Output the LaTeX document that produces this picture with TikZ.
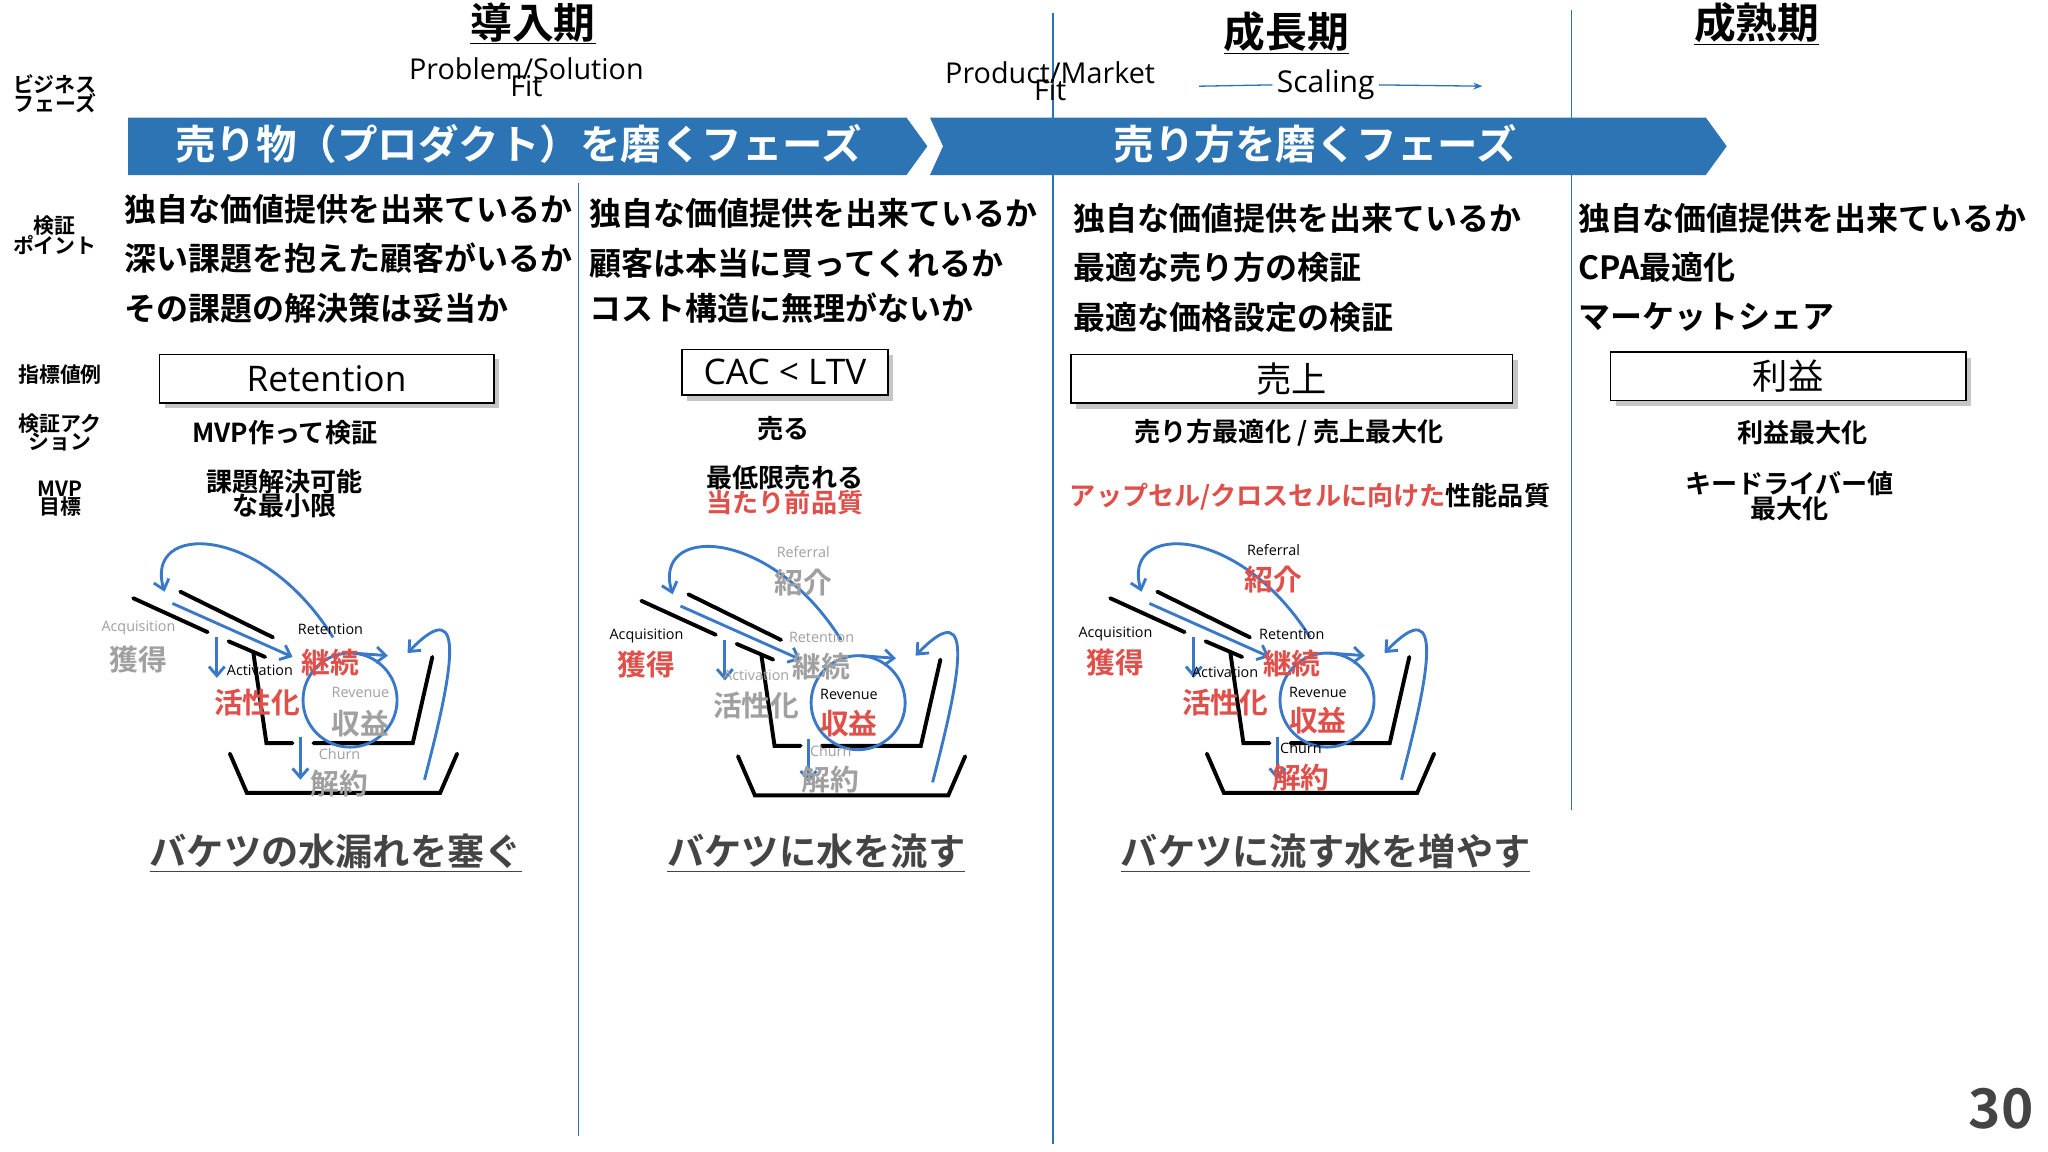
\documentclass[tikz,border=0pt]{standalone}
\usepackage{fontspec}
\setmainfont{Noto Sans CJK JP}[BoldFont={* Bold}]
\newfontfamily\lat{Open Sans}
\usetikzlibrary{arrows.meta,shapes.arrows}
\definecolor{bann}{HTML}{2C74B3}
\definecolor{lb}{HTML}{3A78C8}
\definecolor{rd}{HTML}{E0504A}
\definecolor{gr}{HTML}{A0A0A0}
\definecolor{dk}{HTML}{444444}
\tikzset{
 hd/.style={font=\bfseries\fontsize{32}{34}\selectfont},
 sm/.style={font=\bfseries\fontsize{16}{12}\selectfont,align=center},
 li/.style={anchor=west,font=\bfseries\fontsize{24.5}{26}\selectfont},
 act/.style={font=\bfseries\fontsize{20}{17}\selectfont,align=center},
 bx/.style={draw,line width=1.2pt,fill=white,inner sep=0pt,font=\lat\fontsize{27}{28}\selectfont},
 shd/.style={fill=gray!45},
 vl/.style={line width=1.2pt,bann},
 bl/.style={line width=3pt,line cap=round},
 blu/.style={lb,line width=2.2pt,-{Straight Barb[length=7pt,width=12pt]}},
 en/.style={font=\lat\fontsize{11}{12}\selectfont},
 jp/.style={font=\bfseries\fontsize{22}{24}\selectfont},
 captext/.style={font=\bfseries\fontsize{28.5}{30}\selectfont,dk},
}
\newcommand\mybucket[3]{%
\begin{scope}[shift={(#1,#2)}]
 \draw[bl] (102,458)--(159,484);
 \draw[bl] (138,453)--(209,488);
 \draw[bl] (175,491)--(203,503);
 \draw[bl] (194,500)--(204,569)--(224,569);
 \draw[bl] (240,569)--(316,569)--(331,503);
 \draw[bl] (176,577)--(189,607)--(337,607)--(350,577);
 \draw[lb,line width=2.2pt] (268,536) circle (36);
 \draw[blu] (255,488) .. controls (200,400) and (110,400) .. (126,453);
 \draw[blu] (132,462)--(224,503);
 \draw[blu] (166,488)--(166,519);
 \draw[blu] (230,564)--(230,597);
 \draw[blu] (270,500) -- (297,502);
 \draw[blu] (325,597) .. controls (345,520) and (360,450) .. (312,500);
 #3
\end{scope}}
\begin{document}
\begin{tikzpicture}[x=1pt,y=-1pt]
\useasboundingbox (0,0) rectangle (1568,882);
\fill[white] (0,0) rectangle (1568,882);
% vertical lines
\draw[vl] (443,140)--(443,870);
\draw[vl] (806,10)--(806,876);
\draw[vl] (1203,8)--(1203,620);
% headers
\node[hd] (h1) at (408,18) {\underline{導入期}};
\node[hd] (h2) at (985,25) {\underline{成長期}};
\node[hd] (h3) at (1345,18) {\underline{成熟期}};
\node[font=\lat\fontsize{22}{14}\selectfont,align=center] (ps) at (403,59) {Problem/Solution\\[-4pt]Fit};
\node[font=\lat\fontsize{22}{14}\selectfont,align=center] (pm) at (804,62) {Product/Market\\[-4pt]Fit};
\node[font=\lat\fontsize{23}{24}\selectfont] (sc) at (1015,65) {Scaling};
\coordinate (s1) at (918,66); \coordinate (s2) at (1135,66);
\draw[line width=1pt,bann] (s1)--(sc.west);
\draw[line width=1pt,bann,-{Stealth[length=7pt]}] (sc.east)--(s2);
% banners
\fill[bann] (98,90)--(694,90)--(710,112)--(694,134)--(98,134)--cycle;
\fill[bann] (712,90)--(1306,90)--(1322,112)--(1306,134)--(712,134)--(722,112)--cycle;
\node[white,font=\bfseries\fontsize{31}{32}\selectfont] (b1) at (397,110) {売り物（プロダクト）を磨くフェーズ};
\node[white,font=\bfseries\fontsize{31}{32}\selectfont] (b2) at (1007,110) {売り方を磨くフェーズ};
% left labels
\node[sm] (l1) at (42,72) {ビジネス\\[-1pt]フェーズ};
\node[sm] (l2) at (42,180) {検証\\[-1pt]ポイント};
\node[sm] (l3) at (46,287) {指標値例};
\node[sm] (l4) at (46,331) {検証アク\\[-1pt]ション};
\node[sm] (l5) at (46,382) {MVP\\[-1pt]目標};
% lists
\node[li] (a1) at (92,160) {独自な価値提供を出来ているか};
\node[li] (a2) at (92,198) {深い課題を抱えた顧客がいるか};
\node[li] (a3) at (92,236) {その課題の解決策は妥当か};
\node[li] (c1) at (448,163) {独自な価値提供を出来ているか};
\node[li] (c2) at (448,202) {顧客は本当に買ってくれるか};
\node[li] (c3) at (448,236) {コスト構造に無理がないか};
\node[li] (d1) at (818,167) {独自な価値提供を出来ているか};
\node[li] (d2) at (818,205) {最適な売り方の検証};
\node[li] (d3) at (818,243) {最適な価格設定の検証};
\node[li] (e1) at (1205,167) {独自な価値提供を出来ているか};
\node[li] (e2) at (1205,205) {CPA最適化};
\node[li] (e3) at (1205,243) {マーケットシェア};
% boxes
\fill[shd] (126,275) rectangle (382,312);
\node[bx,minimum width=256pt,minimum height=37pt] (r1) at (250,290) {Retention};
\fill[shd] (526,272) rectangle (684,307);
\node[bx,minimum width=158pt,minimum height=35pt] (r2) at (601,285) {CAC < LTV};
\fill[shd] (824,276) rectangle (1162,313);
\node[bx,minimum width=338pt,minimum height=37pt,font=\fontsize{27}{28}\selectfont] (r3) at (989,290) {売上};
\fill[shd] (1237,274) rectangle (1509,311);
\node[bx,minimum width=272pt,minimum height=37pt,font=\fontsize{27}{28}\selectfont] (r4) at (1369,288) {利益};
% actions
\node[act] (m1) at (218,331) {MVP作って検証};
\node[act] (m2) at (600,328) {売る};
\node[act] (m3) at (987,331) {売り方最適化 / 売上最大化};
\node[act] (m4) at (1380,331) {利益最大化};
\node[act] (g1) at (218,378) {課題解決可能\\[-1pt]な最小限};
\node[act] (g2) at (601,375) {最低限売れる\\[-1pt]\textcolor{rd}{当たり前品質}};
\node[act] (g3) at (1003,380) {\textcolor{rd}{アップセル/クロスセルに向けた}性能品質};
\node[act] (g4) at (1370,380) {キードライバー値\\[-1pt]最大化};
% buckets
\mybucket{0}{0}{
 \node[en,gr] (q1) at (106,481) {Acquisition};
 \node[jp,gr] (q2) at (106,505) {獲得};
 \node[en] (q3) at (253,482) {Retention};
 \node[jp,rd] (q4) at (253,507) {継続};
 \node[en] (q5) at (199,513) {Activation};
 \node[jp,rd] (q6) at (197,538) {活性化};
 \node[en,gr] (q7) at (276,530) {Revenue};
 \node[jp,gr] (q8) at (276,554) {収益};
 \node[en,gr] (q9) at (260,577) {Churn};
 \node[jp,gr] (q10) at (260,600) {解約};
}
\mybucket{389}{2}{
 \node[en,gr] (p0) at (226,421) {Referral};
 \node[jp,gr] (p00) at (226,444) {紹介};
 \node[en] (p1) at (106,485) {Acquisition};
 \node[jp,rd] (p2) at (106,507) {獲得};
 \node[en,gr] (p3) at (240,486) {Retention};
 \node[jp,gr] (p4) at (240,508) {継続};
 \node[en,gr] (p5) at (190,515) {Activation};
 \node[jp,gr] (p6) at (190,538) {活性化};
 \node[en] (p7) at (261,530) {Revenue};
 \node[jp,rd] (p8) at (261,552) {収益};
 \node[en,gr] (p9) at (247,573) {Churn};
 \node[jp,gr] (p10) at (247,595) {解約};
}
\mybucket{748}{0}{
 \node[en] (o0) at (227,421) {Referral};
 \node[jp,rd] (o00) at (227,444) {紹介};
 \node[en] (o1) at (106,485) {Acquisition};
 \node[jp,rd] (o2) at (106,507) {獲得};
 \node[en] (o3) at (241,486) {Retention};
 \node[jp,rd] (o4) at (241,508) {継続};
 \node[en] (o5) at (190,515) {Activation};
 \node[jp,rd] (o6) at (190,538) {活性化};
 \node[en] (o7) at (261,530) {Revenue};
 \node[jp,rd] (o8) at (261,552) {収益};
 \node[en] (o9) at (248,573) {Churn};
 \node[jp,rd] (o10) at (248,595) {解約};
}
% captions
\node[captext] (k1) at (257,653) {\underline{バケツの水漏れを塞ぐ}};
\node[captext] (k2) at (625,653) {\underline{バケツに水を流す}};
\node[captext] (k3) at (1015,653) {\underline{バケツに流す水を増やす}};
\node[font=\bfseries\fontsize{42}{44}\selectfont,dk] (pg) at (1532,849) {30};
\end{tikzpicture}
\end{document}
